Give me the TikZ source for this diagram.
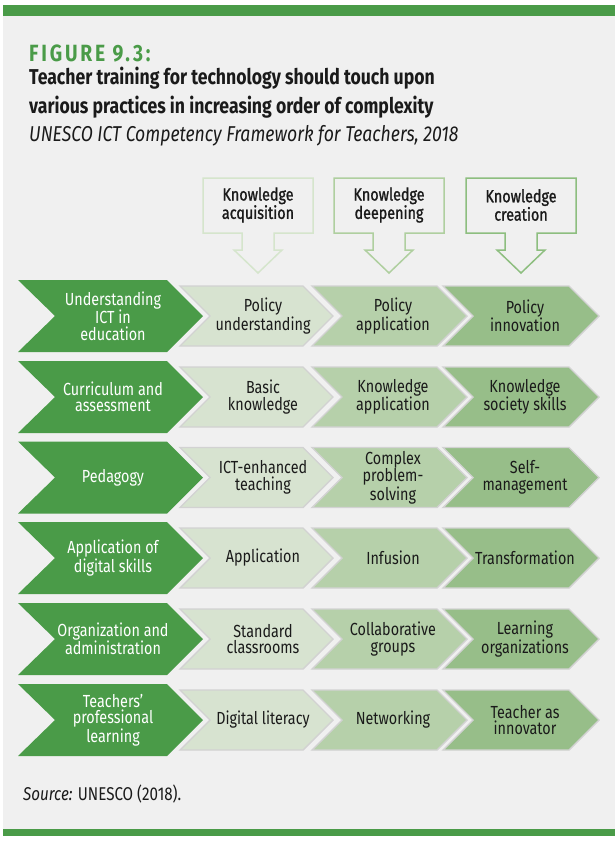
\documentclass[tikz,border=0pt]{standalone}
\usepackage{fontspec}
\setmainfont{Fira Sans}[FakeStretch=0.82]
\definecolor{grn}{HTML}{4A9B48}
\definecolor{bgc}{HTML}{F0F0F0}
\definecolor{cA}{HTML}{D7E3D0}
\definecolor{cB}{HTML}{B6D0AA}
\definecolor{cC}{HTML}{97BE89}
\definecolor{aA}{HTML}{D5E5CC}
\definecolor{aB}{HTML}{AFCF9F}
\definecolor{aC}{HTML}{8DBE7F}
\definecolor{edg}{HTML}{D2D2D2}
\definecolor{ink}{HTML}{1A1A1A}
\tikzset{
  lbl/.style={align=center, inner sep=0pt, text=ink, font=\fontsize{17.5}{16.5}\selectfont},
  wlbl/.style={lbl, text=white},
  hdr/.style={align=center, inner sep=0pt, text=ink, font=\fontsize{17.5}{16.5}\selectfont\addfontfeature{FakeBold=1.2}},
  cellA/.style={fill=cA, draw=edg, line width=1.4pt, line join=miter},
  cellB/.style={fill=cB, draw=edg, line width=1.4pt, line join=miter},
  cellC/.style={fill=cC, draw=edg, line width=1.4pt, line join=miter},
}
\newcommand\lcell[4]{% x1, x2, ymid, style
  \draw[#4] (#1,#3-30) -- (#2-30,#3-30) -- (#2,#3) -- (#2-30,#3+30) -- (#1,#3+30) -- (#1+30,#3) -- cycle;}
\newcommand\myrow[6]{%
  \fill[grn] (18,#1-36) -- (167,#1-36) -- (203,#1) -- (167,#1+36) -- (18,#1+36) -- (55,#1) -- cycle;
  \lcell{180}{333}{#1}{cellA}
  \lcell{312}{467}{#1}{cellB}
  \lcell{443}{599}{#1}{cellC}
  \node[wlbl] (#2g) at (113,#1) {#3};
  \node[lbl] (#2a) at (263,#1) {#4};
  \node[lbl] (#2b) at (393,#1) {#5};
  \node[lbl] (#2c) at (525,#1) {#6};}
\newcommand\hdrarrow[2]{% center, colour
  \draw[#2, line width=1.5pt, fill=bgc] (#1-55,178) -- (#1+55,178) -- (#1+55,233) -- (#1+16,233) -- (#1+16,250) -- (#1+24,250) -- (#1,273) -- (#1-24,250) -- (#1-16,250) -- (#1-16,233) -- (#1-55,233) -- cycle;}
\begin{document}
\begin{tikzpicture}[x=1pt,y=-1pt]
\useasboundingbox (0,0) rectangle (615,841);
\fill[white] (0,0) rectangle (615,841);
\fill[bgc] (3,16) rectangle (615,829);
\fill[grn] (3,5) rectangle (615,16);
\fill[grn] (3,829) rectangle (615,836);

\node[anchor=base west, inner sep=0pt, text=grn, font=\fontsize{23.5}{23.5}\selectfont\bfseries\addfontfeature{LetterSpace=12}] (fig) at (29,61) {FIGURE 9.3:};
\node[anchor=base west, inner sep=0pt, text=ink, font=\fontsize{21.5}{21.5}\selectfont\bfseries] (t1) at (29,84) {Teacher training for technology should touch upon};
\node[anchor=base west, inner sep=0pt, text=ink, font=\fontsize{21.5}{21.5}\selectfont\bfseries] (t2) at (29,113) {various practices in increasing order of complexity};
\node[anchor=base west, inner sep=0pt, text=ink, font=\fontsize{21.5}{21.5}\selectfont\itshape] (t3) at (29,141) {UNESCO ICT Competency Framework for Teachers, 2018};

\hdrarrow{258}{aA}
\hdrarrow{389}{aB}
\hdrarrow{521}{aC}
\node[hdr] (h1) at (258,205) {Knowledge\\acquisition};
\node[hdr] (h2) at (389,205) {Knowledge\\deepening};
\node[hdr] (h3) at (521,205) {Knowledge\\creation};

\myrow{316}{r1}{Understanding\\ICT in\\education}{Policy\\understanding}{Policy\\application}{Policy\\innovation}
\myrow{397}{r2}{Curriculum and\\assessment}{Basic\\knowledge}{Knowledge\\application}{Knowledge\\society skills}
\myrow{477.5}{r3}{Pedagogy}{ICT-enhanced\\teaching}{Complex\\problem-\\solving}{Self-\\management}
\myrow{558}{r4}{Application of\\digital skills}{Application}{Infusion}{Transformation}
\myrow{639}{r5}{Organization and\\administration}{Standard\\classrooms}{Collaborative\\groups}{Learning\\organizations}
\myrow{720}{r6}{Teachers’\\professional\\learning}{Digital literacy}{Networking}{Teacher as\\innovator}

\node[anchor=base west, inner sep=0pt, text=ink, font=\fontsize{18.5}{18.5}\selectfont] (src) at (23,800) {\textit{Source:} UNESCO (2018).};
\end{tikzpicture}
\end{document}
